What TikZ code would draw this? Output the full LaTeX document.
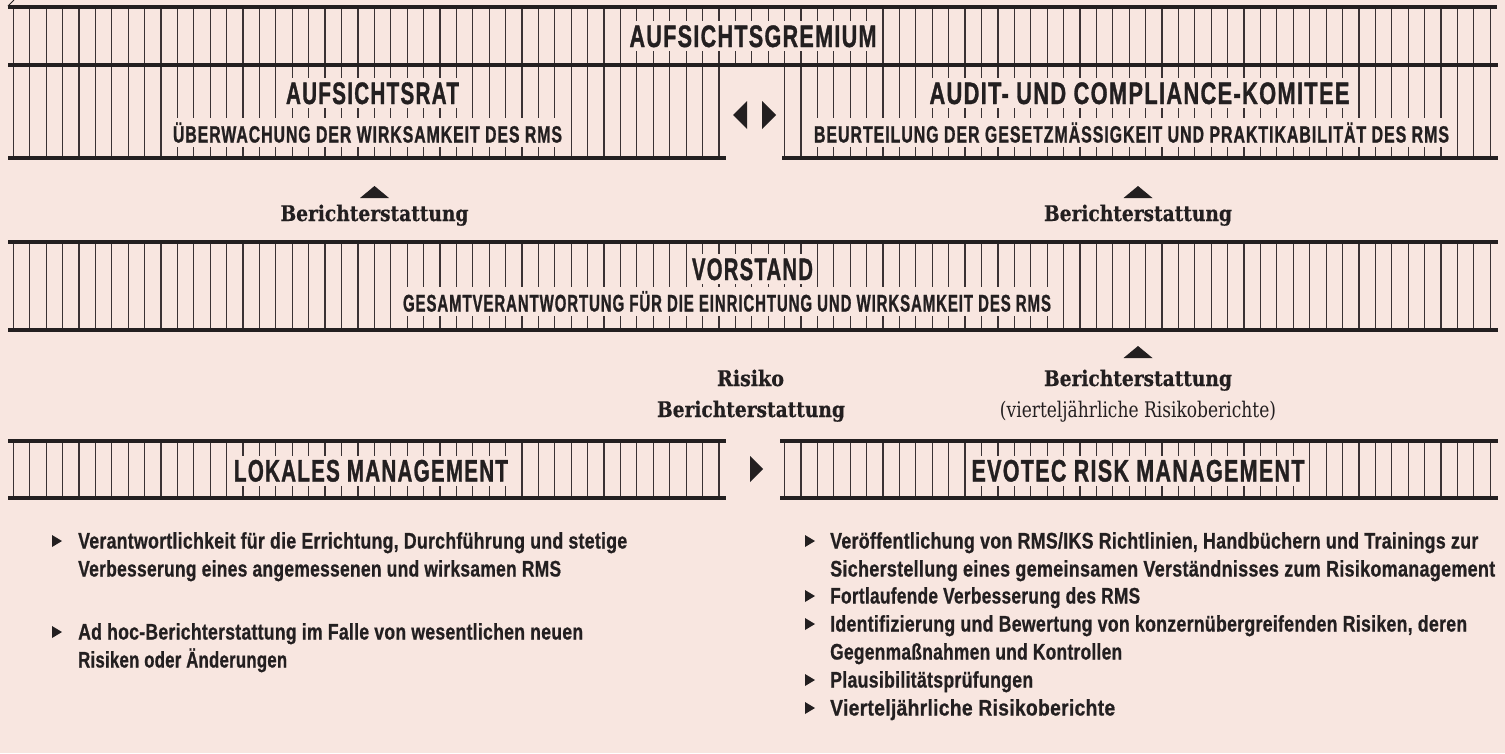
\documentclass[tikz,border=0pt]{standalone}
\usepackage{fontspec}
\usepackage{graphicx}
\newfontfamily\hdfont{Liberation Sans}[FakeBold=1.3,LetterSpace=6]
\newfontfamily\blfont{Liberation Sans}[FakeBold=0.9,LetterSpace=1.5]
\newfontfamily\srfont{DejaVu Serif}[FakeBold=0.6]
\newfontfamily\srregfont{DejaVu Serif}
\definecolor{bg}{HTML}{F8E6E0}
\definecolor{ink}{HTML}{231F20}
\definecolor{tickc}{HTML}{3A3234}
\newcommand\hdtext[3]{\resizebox{#1pt}{\height}{\hdfont\bfseries\fontsize{#2}{#2}\selectfont #3}}
\newcommand\bltext[3]{\resizebox{#1pt}{\height}{\blfont\bfseries\fontsize{#2}{#2}\selectfont #3}}
\newcommand\srtext[3]{\resizebox{#1pt}{\height}{\srfont\bfseries\fontsize{#2}{#2}\selectfont #3}}
\newcommand\srregtext[3]{\resizebox{#1pt}{\height}{\srregfont\fontsize{#2}{#2}\selectfont #3}}
\tikzset{
  barline/.style={line width=3.5pt, draw=ink, line cap=butt},
  tickline/.style={line width=1.2pt, draw=tickc},
  hd/.style={anchor=base, fill=bg, text=ink, inner xsep=3pt, inner ysep=4pt},
  sr/.style={anchor=base, text=ink, inner sep=0pt},
  bl/.style={anchor=base west, text=ink, inner sep=0pt},
  marker/.style={fill=ink, draw=none}
}
\begin{document}
\begin{tikzpicture}[x=1pt, y=-1pt]
\useasboundingbox (0,0) rectangle (1505,753);
\fill[bg] (0,0) rectangle (1505,753);
% small corner stroke
\draw[ink, line width=0.8pt] (8,6) -- (14,0);
% ticks
\foreach \i in {0,...,90}{
  \pgfmathsetmacro\xx{13.3+16.41*\i}
  \draw[tickline] (\xx,7) -- (\xx,65);
  \draw[tickline] (\xx,242) -- (\xx,330);
}
\foreach \i in {0,...,43}{
  \pgfmathsetmacro\xx{13.3+16.41*\i}
  \draw[tickline] (\xx,65) -- (\xx,158);
  \draw[tickline] (\xx,441) -- (\xx,498);
}
\foreach \i in {47,...,90}{
  \pgfmathsetmacro\xx{13.3+16.41*\i}
  \draw[tickline] (\xx,65) -- (\xx,158);
  \draw[tickline] (\xx,441) -- (\xx,498);
}
% bar lines
\draw[barline] (8,7) -- (1497,7);
\draw[barline] (8,65) -- (1498,65);
\draw[barline] (8,158) -- (726,158);
\draw[barline] (782,158) -- (1498,158);
\draw[barline] (8,242) -- (1498,242);
\draw[barline] (8,330) -- (1498,330);
\draw[barline] (8,441) -- (726,441);
\draw[barline] (8,498) -- (726,498);
\draw[barline] (780,441) -- (1498,441);
\draw[barline] (780,498) -- (1498,498);
% headers
\node[hd] (gremium) at (753,47) {\hdtext{247}{31}{AUFSICHTSGREMIUM}};
\node[hd] (rat) at (372.5,104) {\hdtext{173}{31}{AUFSICHTSRAT}};
\node[hd] (ueber) at (367.5,142.5) {\hdtext{389}{23.5}{ÜBERWACHUNG DER WIRKSAMKEIT DES RMS}};
\node[hd] (audit) at (1139.5,104) {\hdtext{420}{31}{AUDIT- UND COMPLIANCE-KOMITEE}};
\node[hd] (beurt) at (1131.5,142.5) {\hdtext{635}{23.5}{BEURTEILUNG DER GESETZMÄSSIGKEIT UND PRAKTIKABILITÄT DES RMS}};
\node[hd] (vorstand) at (752.5,280) {\hdtext{121}{31}{VORSTAND}};
\node[hd] (gesamt) at (727,311.5) {\hdtext{648}{24}{GESAMTVERANTWORTUNG FÜR DIE EINRICHTUNG UND WIRKSAMKEIT DES RMS}};
\node[hd] (lokal) at (371,481.5) {\hdtext{274}{31}{LOKALES MANAGEMENT}};
\node[hd] (evotec) at (1138,481.5) {\hdtext{333}{31}{EVOTEC RISK MANAGEMENT}};
% markers
\fill[marker] (747,101) -- (747,129) -- (733,115) -- cycle;
\fill[marker] (762,101) -- (762,129) -- (776,115) -- cycle;
\fill[marker] (750,456) -- (750,482) -- (763,469) -- cycle;
\fill[marker] (360,198) -- (389,198) -- (374.5,186) -- cycle;
\fill[marker] (1123.5,198) -- (1152.5,198) -- (1138,186) -- cycle;
\fill[marker] (1123.5,358) -- (1152.5,358) -- (1138,346) -- cycle;
% serif labels
\node[sr] (ber1) at (374.5,221) {\srtext{188}{21.5}{Berichterstattung}};
\node[sr] (ber2) at (1138,221) {\srtext{188}{21.5}{Berichterstattung}};
\node[sr] (risiko) at (750.5,386) {\srtext{67}{21.5}{Risiko}};
\node[sr] (ber3) at (751,417) {\srtext{188}{21.5}{Berichterstattung}};
\node[sr] (ber4) at (1138,386) {\srtext{188}{21.5}{Berichterstattung}};
\node[sr] (viertel) at (1138,417) {\srregtext{276}{21.5}{(vierteljährliche Risikoberichte)}};
% left bullets
\foreach \y in {541,632}{
  \fill[marker] (52,\y) ++(0,-6) -- ++(0,12) -- ++(10,-6) -- cycle;
}
\node[bl] (l1) at (78,548.5) {\bltext{549}{22.5}{Verantwortlichkeit für die Errichtung, Durchführung und stetige}};
\node[bl] (l2) at (78,576.5) {\bltext{483}{22.5}{Verbesserung eines angemessenen und wirksamen RMS}};
\node[bl] (l3) at (78,639.5) {\bltext{505}{22.5}{Ad hoc-Berichterstattung im Falle von wesentlichen neuen}};
\node[bl] (l4) at (78,667.5) {\bltext{209}{22.5}{Risiken oder Änderungen}};
% right bullets
\foreach \y in {541,596,624,680,708}{
  \fill[marker] (805,\y) ++(0,-6) -- ++(0,12) -- ++(10,-6) -- cycle;
}
\node[bl] (r1) at (830,548.5) {\bltext{648}{22.5}{Veröffentlichung von RMS/IKS Richtlinien, Handbüchern und Trainings zur}};
\node[bl] (r2) at (830,576.5) {\bltext{665}{22.5}{Sicherstellung eines gemeinsamen Verständnisses zum Risikomanagement}};
\node[bl] (r3) at (830,603.5) {\bltext{310}{22.5}{Fortlaufende Verbesserung des RMS}};
\node[bl] (r4) at (830,631.5) {\bltext{637}{22.5}{Identifizierung und Bewertung von konzernübergreifenden Risiken, deren}};
\node[bl] (r5) at (830,659.5) {\bltext{292}{22.5}{Gegenmaßnahmen und Kontrollen}};
\node[bl] (r6) at (830,687.5) {\bltext{203}{22.5}{Plausibilitätsprüfungen}};
\node[bl] (r7) at (830,715.5) {\bltext{285}{22.5}{Vierteljährliche Risikoberichte}};
\end{tikzpicture}
\end{document}
